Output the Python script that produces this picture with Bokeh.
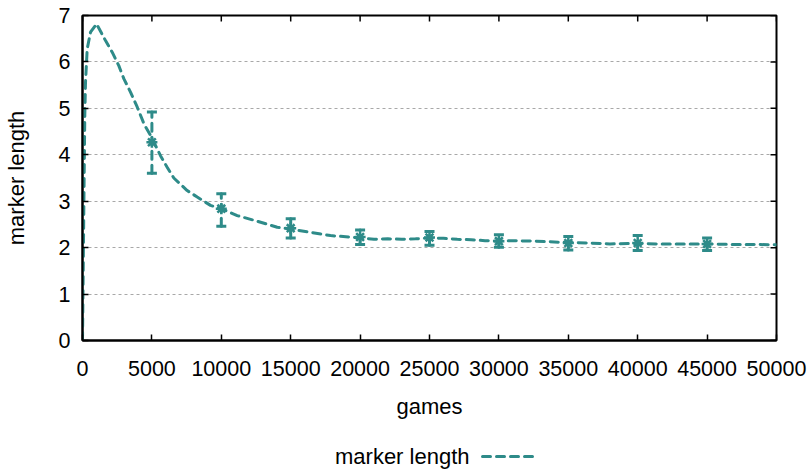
import math
from bokeh.plotting import figure
from bokeh.layouts import column
from bokeh.models import FixedTicker, Range1d
from bokeh.core.properties import value
from bokeh.embed import file_html
from bokeh.resources import INLINE

TEAL = "#2e8b89"
FONT = "Liberation Sans"

# smoothed curve of marker length vs games
curve_x = [0, 144, 166, 216, 339, 576, 1009, 1657, 2140, 2615, 2975, 3458, 3940, 4450,
           4900, 5620, 6100, 6578, 7540, 8264, 9222, 10000, 11146, 12586, 14028, 15000,
           16427, 17867, 20000, 21000, 22000, 23000, 24000, 25000, 26000, 27000, 28000,
           29000, 30000, 31000, 32500, 35000, 36500, 38000, 40000, 41500, 43000, 45000,
           46500, 48000, 50000]
curve_y = [0, 4.27, 4.85, 5.56, 6.28, 6.64, 6.82, 6.46, 6.21, 5.92, 5.64, 5.35, 5.03, 4.65,
           4.42, 3.98, 3.73, 3.50, 3.23, 3.09, 2.91, 2.84, 2.69, 2.57, 2.44, 2.40,
           2.33, 2.26, 2.21, 2.18, 2.19, 2.18, 2.19, 2.21, 2.20, 2.18, 2.17,
           2.15, 2.14, 2.15, 2.14, 2.11, 2.10, 2.08, 2.09, 2.08, 2.08, 2.08,
           2.07, 2.07, 2.06]

# error bar points
err_x = [5000, 10000, 15000, 20000, 25000, 30000, 35000, 40000, 45000]
err_mean = [4.27, 2.84, 2.42, 2.23, 2.22, 2.14, 2.10, 2.10, 2.08]
err_hi = [4.92, 3.16, 2.62, 2.38, 2.35, 2.28, 2.24, 2.26, 2.21]
err_lo = [3.60, 2.46, 2.21, 2.07, 2.05, 2.01, 1.95, 1.94, 1.94]

x_ticks = [0, 5000, 10000, 15000, 20000, 25000, 30000, 35000, 40000, 45000, 50000]
y_ticks = [0, 1, 2, 3, 4, 5, 6, 7]
x_max = 50000
y_max = 7

LEFT, RIGHT = 82, 36

p = figure(width=812, height=440, output_backend="svg", toolbar_location=None,
           x_range=Range1d(0, x_max), y_range=Range1d(0, y_max),
           min_border_left=LEFT, min_border_right=RIGHT, min_border_top=15, min_border_bottom=100)
p.background_fill_color = "white"
p.border_fill_color = "white"
p.outline_line_color = "black"
p.outline_line_width = 2

# x axis
xa = p.xaxis[0]
xa.ticker = FixedTicker(ticks=x_ticks)
xa.major_tick_in = 6
xa.major_tick_out = 0
xa.minor_tick_line_color = None
xa.axis_line_width = 2
xa.major_tick_line_width = 1.5
xa.major_label_text_font = FONT
xa.major_label_text_font_size = "21.5px"
xa.major_label_text_color = "black"
xa.major_label_standoff = 20
xa.axis_label = "games"
xa.axis_label_text_font = FONT
xa.axis_label_text_font_size = "22px"
xa.axis_label_text_font_style = "normal"
xa.axis_label_text_color = "black"
xa.axis_label_standoff = 15

# y axis
ya = p.yaxis[0]
ya.ticker = FixedTicker(ticks=y_ticks)
ya.major_tick_in = 6
ya.major_tick_out = 0
ya.major_tick_line_width = 1.5
ya.minor_tick_line_color = None
ya.axis_line_width = 2
ya.major_label_text_font = FONT
ya.major_label_text_font_size = "21.5px"
ya.major_label_text_color = "black"
ya.major_label_standoff = 12
ya.axis_label = "marker length"
ya.axis_label_text_font = FONT
ya.axis_label_text_font_size = "22px"
ya.axis_label_text_font_style = "normal"
ya.axis_label_text_color = "black"
ya.axis_label_standoff = 27

# grid
p.xgrid.visible = False
p.ygrid.ticker = FixedTicker(ticks=y_ticks)
p.ygrid.grid_line_color = "#a8a8a8"
p.ygrid.grid_line_dash = "3 3"
p.ygrid.grid_line_width = 1

# mirrored ticks on the top and right borders
p.ray(x=x_ticks, y=[y_max] * len(x_ticks), length=6, length_units="screen",
      angle=-math.pi / 2, line_color="black", line_width=1.5)
p.ray(x=[x_max] * len(y_ticks), y=y_ticks, length=6, length_units="screen",
      angle=math.pi, line_color="black", line_width=1.5)

# curve
p.line(curve_x, curve_y, line_color=TEAL, line_width=3, line_dash="8 6", line_cap="round")

# error bars
p.segment(x0=err_x, y0=err_lo, x1=err_x, y1=err_hi, line_color=TEAL, line_width=3,
          line_dash="8 6", line_cap="round")
p.scatter(err_x, err_hi, marker="dash", size=10, line_color=TEAL, line_width=3)
p.scatter(err_x, err_lo, marker="dash", size=10, line_color=TEAL, line_width=3)
p.scatter(err_x, err_mean, marker="asterisk", size=11, line_color=TEAL, line_width=2.5)

# legend row (label to the left of the line sample); its frame matches the main frame,
# and its x range is in window pixels
lg = figure(width=812, height=29, output_backend="svg", toolbar_location=None,
            x_range=Range1d(LEFT, 812 - RIGHT), y_range=Range1d(0, 29),
            x_axis_location=None, y_axis_location=None,
            min_border_left=LEFT, min_border_right=RIGHT, min_border_top=0, min_border_bottom=0)
lg.xgrid.visible = False
lg.ygrid.visible = False
lg.outline_line_color = None
lg.background_fill_color = "white"
lg.border_fill_color = "white"
lg.text(x=[469], y=[13], text=["marker length"], text_align="right", text_baseline="middle",
        text_font=value(FONT), text_font_size=value("22px"), text_color="black")
lg.line(x=[482, 534], y=[13, 13], line_color=TEAL, line_width=3, line_dash="8 6",
        line_cap="round")

layout = column(p, lg, spacing=0)
open("out.html", "w").write(file_html(layout, INLINE))
